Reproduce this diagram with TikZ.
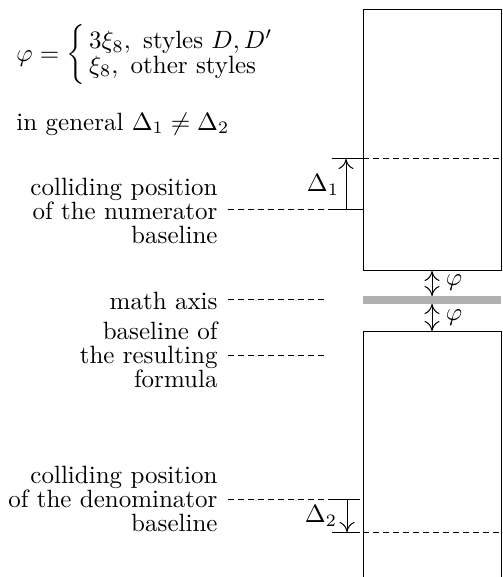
\documentclass[tikz,border=0pt]{standalone}
\usepackage{amsmath}
\usetikzlibrary{arrows.meta}
\begin{document}
\begin{tikzpicture}[x=0.4pt,y=-0.4pt,
  lbl/.style={align=right,anchor=east,inner sep=0pt,font=\fontsize{10pt}{9.6pt}\selectfont},
  dsh/.style={line width=0.4pt,dash pattern=on 2.2pt off 1.8pt},
  thin/.style={line width=0.4pt},
  tip/.tip={Computer Modern Rightarrow[length=4pt,width=6pt]},
  arr/.style={line width=0.4pt,-tip},
  darr/.style={line width=0.4pt,tip-tip}]
\useasboundingbox (0,0) rectangle (502,577);
% formula texts
\node[anchor=west,inner sep=0pt] (phi) at (16,55)
  {\renewcommand{\arraystretch}{0.8}$\varphi=\left\{\,\begin{array}{@{}l@{}}3\xi_8,\ \text{styles }D,D'\\ \xi_8,\ \text{other styles}\end{array}\right.$};
\node[anchor=west,inner sep=0pt] (gen) at (16,124) {in general $\Delta_1\neq\Delta_2$};
% boxes
\draw[thin] (363,10) rectangle (501,271);
\draw[thin] (363,577) -- (363,331) -- (501,331) -- (501,577);
\fill[black!31] (363,296) rectangle (501,304);
% left labels
\node[lbl] (num) at (218,211) {colliding position\\of the numerator\\baseline};
\node[lbl] (axis) at (218,301) {math axis};
\node[lbl] (res) at (218,355) {baseline of\\the resulting\\formula};
\node[lbl] (den) at (218,499) {colliding position\\of the denominator\\baseline};
% numerator
\coordinate (n1) at (332,159);
\coordinate (n2) at (332,210);
\draw[dsh] (228,210) -- (n2);
\draw[thin] (n2) -- (363,210);
\draw[thin] (n1) -- (363,159);
\draw[dsh] (363,159) -- (501,159);
\draw[arr] (346,210) -- (346,159);
\node[inner sep=0pt] (d1) at (323,185) {$\Delta_1$};
% axis and result
\draw[dsh] (228,300) -- (325,300);
\draw[dsh] (228,355) -- (325,355);
% phi arrows
\draw[darr] (432,271) -- (432,296);
\draw[darr] (432,304) -- (432,331);
\node[inner sep=0pt] (p1) at (454,283) {$\varphi$};
\node[inner sep=0pt] (p2) at (454,318) {$\varphi$};
% denominator
\coordinate (m1) at (332,499);
\coordinate (m2) at (332,532);
\draw[dsh] (228,499) -- (m1);
\draw[thin] (m1) -- (360,499);
\draw[thin] (m2) -- (360,532);
\draw[dsh] (363,532) -- (501,532);
\draw[arr] (347,499) -- (347,532);
\node[inner sep=0pt] (d2) at (321,516) {$\Delta_2$};
\end{tikzpicture}
\end{document}
